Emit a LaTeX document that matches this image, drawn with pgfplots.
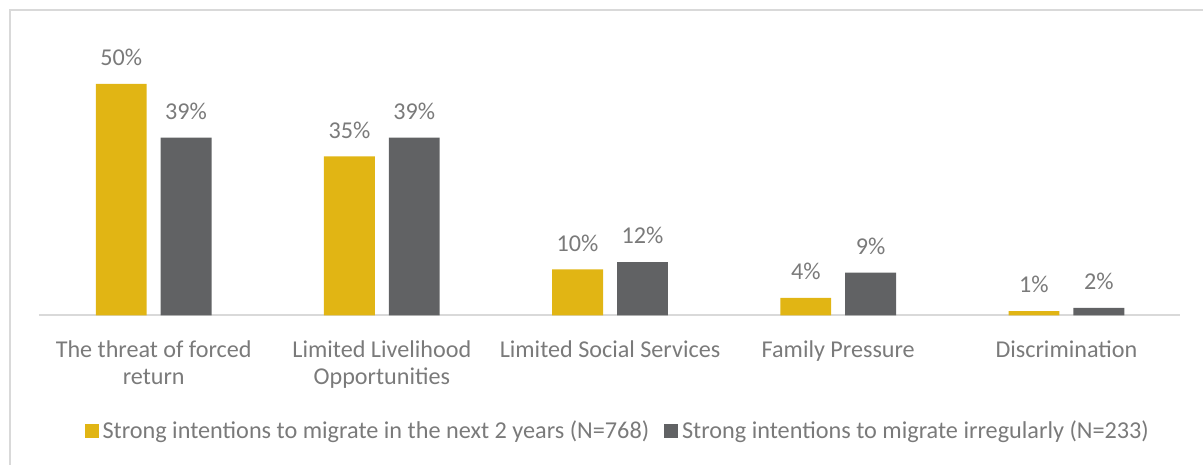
\documentclass[border=0pt]{standalone}
\usepackage{fontspec}
\setmainfont{Carlito}
\usepackage{pgfplots}
\pgfplotsset{compat=1.18}
\definecolor{gold}{HTML}{E1B514}
\definecolor{slate}{HTML}{616264}
\definecolor{txt}{HTML}{7A7A7A}
\definecolor{framegray}{HTML}{D9D9D9}

\begin{document}
\begin{tikzpicture}
% page = 1204 x 464 px at 0.5pt per px
\path (0,0) rectangle (602pt,232pt);
\draw[framegray, line width=0.8pt] (5pt,-1pt) -- (5pt,227pt) -- (603pt,227pt);
\begin{axis}[
    at={(19.5pt,74pt)}, anchor=south west,
    scale only axis,
    width=572pt, height=138pt,
    xmin=-0.503, xmax=4.499, ymin=0, ymax=60,
    axis x line*=bottom, axis y line=none,
    x axis line style={framegray, line width=0.8pt, -},
    ybar=7pt, bar width=25.5pt,
    xtick=data,
    xtick style={draw=none},
    xticklabels={The threat of forced\\return, Limited Livelihood\\Opportunities, Limited Social Services, Family Pressure, Discrimination},
    xticklabel style={align=center, font=\fontsize{12.1}{13.5}\selectfont, text=txt, yshift=-5pt},
    /pgf/number format/assume math mode=true,
    nodes near coords={\pgfmathprintnumber[fixed,precision=0]{\pgfplotspointmeta}\%},
    nodes near coords style={font=\fontsize{12.1}{14}\selectfont, text=txt, yshift=5.5pt},
    legend style={at={(0.508,-0.42)}, anchor=center, draw=none, fill=none,
        legend columns=2, font=\fontsize{12.15}{14}\selectfont, text=txt,
        /tikz/every even column/.append style={column sep=5.5pt}},
    legend image code/.code={\fill[#1] (0pt,-3.5pt) rectangle (7pt,3.5pt);},
]
\addplot[fill=gold, draw=none] coordinates {
    (0,50.4) (1,34.6) (2,10.0) (3,3.8) (4,0.9)
};
\addplot[fill=slate, draw=none] coordinates {
    (0,38.7) (1,38.7) (2,11.6) (3,9.3) (4,1.6)
};
\legend{Strong intentions to migrate in the next 2 years (N=768), Strong intentions to migrate irregularly (N=233)}
\end{axis}
\end{tikzpicture}
\end{document}
